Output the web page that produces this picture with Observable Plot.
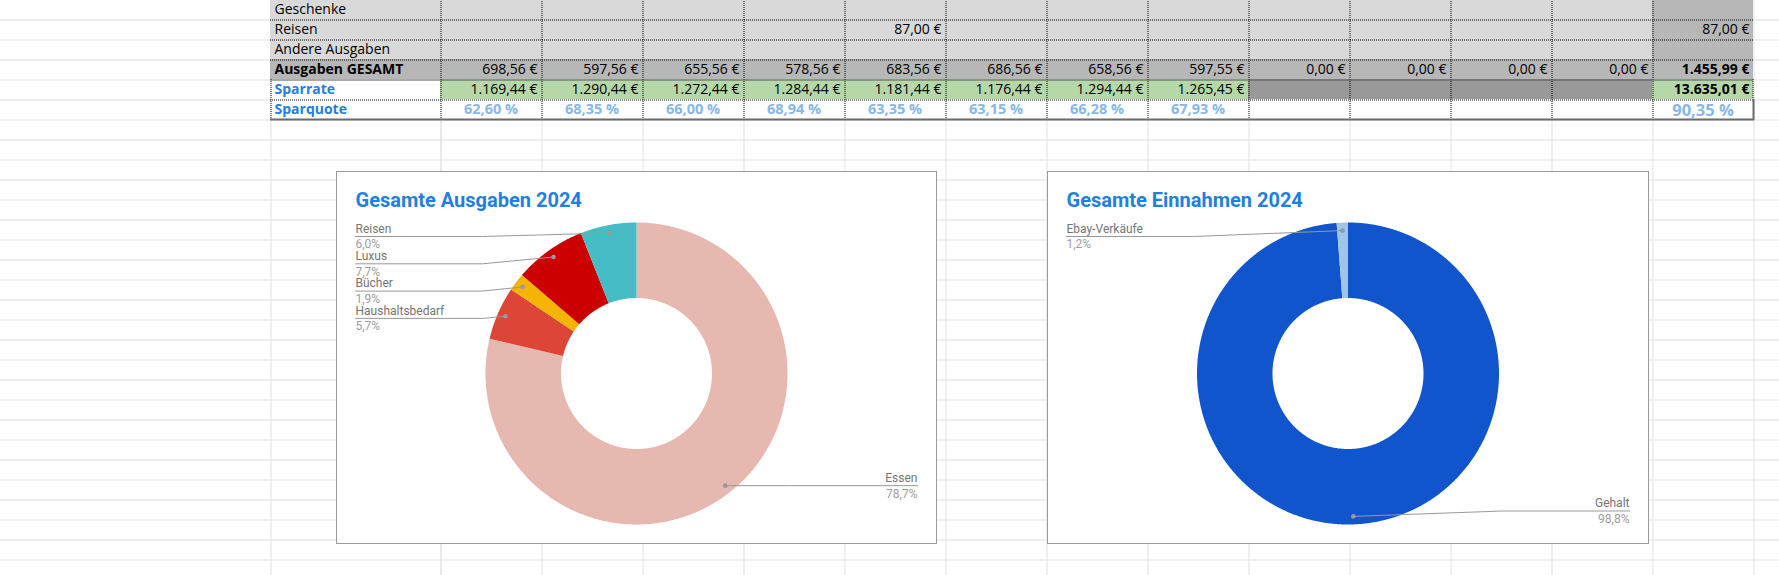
<!DOCTYPE html>
<html><head><meta charset="utf-8">
<script src="https://cdn.jsdelivr.net/npm/d3@7"></script>
<script src="https://cdn.jsdelivr.net/npm/@observablehq/plot@0.6"></script>
<style>html,body{margin:0;padding:0;background:#fff;overflow:hidden}</style>
</head><body><div id="chart"></div>
<script>
// ---------------- DATA ----------------
const months = ["Januar","Februar","März","April","Mai","Juni","Juli","August","September","Oktober","November","Dezember"];
const rowLabels = ["Geschenke","Reisen","Andere Ausgaben","Ausgaben GESAMT","Sparrate","Sparquote"];
const geschenke = [null,null,null,null,null,null,null,null,null,null,null,null];
const reisen = [null,null,null,null,87.00,null,null,null,null,null,null,null];
const andereAusgaben = [null,null,null,null,null,null,null,null,null,null,null,null];
const ausgabenGesamt = [698.56,597.56,655.56,578.56,683.56,686.56,658.56,597.55,0,0,0,0];
const sparrate = [1169.44,1290.44,1272.44,1284.44,1181.44,1176.44,1294.44,1265.45,null,null,null,null];
const sparquote = [62.60,68.35,66.00,68.94,63.35,63.15,66.28,67.93,null,null,null,null];
const rowTotals = [null,87.00,null,1455.99,13635.01,90.35];

const chartTitles = ["Gesamte Ausgaben 2024","Gesamte Einnahmen 2024"];
const expenseCategories = ["Essen","Haushaltsbedarf","Bücher","Luxus","Reisen"];
const expenseShares = [78.7,5.7,1.9,7.7,6.0];
const incomeCategories = ["Gehalt","Ebay-Verkäufe"];
const incomeShares = [98.8,1.2];

// ---------------- STYLE / LAYOUT ----------------
const expenseColors = ["#e6b8af","#dd4637","#f4b400","#cc0000","#46bdc6"];
const incomeColors = ["#1155cc","#9fc5e8"];
const W = 1779, H = 575;
const colAEnd = 270, colBEnd = 440, colW = 101, rowH = 20, row0 = -1;
const colLeft = i => colBEnd + colW * i;      // 0..11 months, 12 = total
const tableRight = colLeft(13);
const rowTop = r => row0 + rowH * r;
const blue = "#1f80e0", lightBlue = "#88b7e8";
const sheetFont = "Open Sans", chartFont = "Roboto";
const rOuter = 151, rInner = 75.5, rDot = 143;
const charts = [
  {x0: 336, y0: 171, x1: 936, y1: 543, cx: 636, cy: 373, title: chartTitles[0], cats: expenseCategories, shares: expenseShares},
  {x0: 1047, y0: 171, x1: 1648, y1: 543, cx: 1347.5, cy: 373, title: chartTitles[1], cats: incomeCategories, shares: incomeShares}
];

const loc = d3.formatLocale({decimal: ",", thousands: ".", grouping: [3], currency: ["", " €"]});
const fmtEuro = v => loc.format(",.2f")(v) + " €";
const fmtPct = v => loc.format(".2f")(v) + " %";
const fmtShare = v => loc.format(".1f")(v) + "%";

// ---------------- TABLE BUILD ----------------
const rowsData = [geschenke, reisen, andereAusgaben, ausgabenGesamt, sparrate, sparquote];
const cells = [];
rowsData.forEach((arr, r) => {
  for (let c = -1; c <= 12; c++) {
    let kind;
    if (r <= 2) kind = c === 12 ? "mid" : "light";
    else if (r === 3) kind = "mid";
    else if (r === 4) kind = c === -1 ? "white" : c === 12 ? "green" : (arr[c] != null ? "green" : "dark");
    else kind = "white";
    cells.push({r, c, kind,
      x1: c === -1 ? colAEnd : colLeft(c), x2: c === -1 ? colBEnd : colLeft(c + 1),
      y1: rowTop(r), y2: rowTop(r + 1)});
  }
});
const cellFill = {light: "#d9d9d9", mid: "#b7b7b7", green: "#b6d7a8", dark: "#999999", white: "#ffffff"};

const texts = [];
rowsData.forEach((arr, r) => {
  for (let c = 0; c <= 12; c++) {
    const v = c < 12 ? arr[c] : rowTotals[r];
    if (v == null) continue;
    texts.push({r, c, v, text: r === 5 ? fmtPct(v) : fmtEuro(v),
      xr: colLeft(c + 1) - 4, xc: (colLeft(c) + colLeft(c + 1)) / 2, y: rowTop(r) + rowH / 2});
  }
});
const labelCells = rowLabels.map((t, r) => ({r, t, x: colAEnd + 4, y: rowTop(r) + rowH / 2}));

const gridY = d3.range(19, H, 20);
const gridX = [colAEnd, colBEnd, ...d3.range(0, 14).map(colLeft)];

// ---------------- PIES ----------------
const slicePts = [], labels = [], leaderPts = [];
charts.forEach((ch, ci) => {
  const arcs = d3.pie().sort(null).value(d => d.v)(ch.cats.map((k, i) => ({k, v: ch.shares[i]})));
  const chartLabels = [];
  arcs.forEach(a => {
    const key = ci + ":" + a.data.k;
    const n = Math.max(2, Math.ceil((a.endAngle - a.startAngle) / (Math.PI / 360)));
    for (let j = 0; j <= n; j++) {
      const t = a.startAngle + (a.endAngle - a.startAngle) * j / n;
      slicePts.push({key, cat: a.data.k, x: ch.cx + rOuter * Math.sin(t), y: ch.cy - rOuter * Math.cos(t)});
    }
    for (let j = n; j >= 0; j--) {
      const t = a.startAngle + (a.endAngle - a.startAngle) * j / n;
      slicePts.push({key, cat: a.data.k, x: ch.cx + rInner * Math.sin(t), y: ch.cy - rInner * Math.cos(t)});
    }
    const mid = (a.startAngle + a.endAngle) / 2;
    const side = Math.sin(mid) < 0 ? "left" : "right";
    chartLabels.push({key, cat: a.data.k, share: a.data.v, side,
      dx: ch.cx + rDot * Math.sin(mid), dy: ch.cy - rDot * Math.cos(mid),
      lx: side === "left" ? ch.x0 + 19 : ch.x1 - 19});
  });
  const top = ch.y0 + 65, bottom = ch.y1 - 32.5, gap = 27.3;
  ["left", "right"].forEach(s => {
    let prev = -Infinity;
    chartLabels.filter(d => d.side === s).sort((a, b) => a.dy - b.dy).forEach(d => {
      d.ly = Math.min(bottom, Math.max(d.dy, top, prev + gap));
      prev = d.ly;
    });
  });
  chartLabels.forEach(d => {
    const bx = d.side === "left" ? d.lx + 127 : d.lx - 127;
    leaderPts.push({key: d.key, x: d.dx, y: d.dy}, {key: d.key, x: bx, y: d.ly}, {key: d.key, x: d.lx, y: d.ly});
    labels.push(d);
  });
});

// ---------------- PLOT ----------------
const crisp = v => Math.round(v) + 0.5;
const tableText = (data, opts) => Plot.text(data, {y: "y", fontSize: 14, fontFamily: sheetFont, ...opts});
const plot = Plot.plot({
  width: W, height: H, margin: 0,
  x: {domain: [0, W], range: [0, W], axis: null},
  y: {domain: [0, H], range: [0, H], axis: null},
  color: {type: "ordinal", domain: [...expenseCategories, ...incomeCategories], range: [...expenseColors, ...incomeColors]},
  style: {fontFamily: sheetFont, background: "#fff"},
  marks: [
    // sheet gridlines
    Plot.ruleY(gridY, {y: d => crisp(d), stroke: "#e1e1e1", strokeOpacity: 1}),
    Plot.ruleX(gridX, {x: d => crisp(d), stroke: "#e1e1e1", strokeOpacity: 1}),
    // table cells
    ...Object.keys(cellFill).map(k => Plot.rect(cells.filter(d => d.kind === k), {x1: "x1", x2: "x2", y1: "y1", y2: "y2", fill: cellFill[k], inset: 0})),
    // dotted inner borders
    Plot.ruleY([0, 1, 2, 4].map(r => rowTop(r + 1)), {y: d => crisp(d), x1: colAEnd, x2: tableRight, stroke: "#000", strokeDasharray: "1,1", strokeOpacity: 1}),
    Plot.ruleX(d3.range(0, 13).map(colLeft), {x: d => crisp(d), y1: rowTop(0), y2: rowTop(6), stroke: "#000", strokeDasharray: "1,1", strokeOpacity: 1}),
    Plot.ruleX([colAEnd], {x: d => crisp(d), y1: rowTop(4), y2: rowTop(6), stroke: "#000", strokeDasharray: "1,1", strokeOpacity: 1}),
    Plot.ruleX([tableRight - 1], {x: d => crisp(d), y1: rowTop(4), y2: rowTop(5), stroke: "#000", strokeDasharray: "1,1", strokeOpacity: 1}),
    Plot.ruleY([rowTop(4)], {y: d => crisp(d), x1: colAEnd, x2: tableRight, stroke: "#555", strokeOpacity: 1}),
    Plot.ruleX([tableRight], {x: d => d, y1: rowTop(5), y2: rowTop(6) + 1, stroke: "#6b6b6b", strokeWidth: 2, strokeOpacity: 1}),
    Plot.ruleY([rowTop(6)], {y: d => d, x1: colAEnd, x2: tableRight + 1, stroke: "#6b6b6b", strokeWidth: 2, strokeOpacity: 1}),
    // table text: row labels
    tableText(labelCells.filter(d => d.r < 3), {x: "x", text: "t", textAnchor: "start", fill: "#000"}),
    tableText(labelCells.filter(d => d.r === 3), {x: "x", text: "t", textAnchor: "start", fill: "#000", fontWeight: "bold"}),
    tableText(labelCells.filter(d => d.r >= 4), {x: "x", text: "t", textAnchor: "start", fill: blue, fontWeight: "bold"}),
    // values
    tableText(texts.filter(d => d.r < 5 && !(d.c === 12 && d.r >= 3)), {x: "xr", text: "text", textAnchor: "end", fill: "#000"}),
    tableText(texts.filter(d => d.r < 5 && d.c === 12 && d.r >= 3), {x: "xr", text: "text", textAnchor: "end", fill: "#000", fontWeight: "bold"}),
    tableText(texts.filter(d => d.r === 5 && d.c < 12), {x: "xc", text: "text", textAnchor: "middle", fontSize: 14.5, fontWeight: "bold", fill: lightBlue}),
    Plot.text(texts.filter(d => d.r === 5 && d.c === 12), {x: "xc", y: d => d.y + 1, text: "text", textAnchor: "middle", fontSize: 16.5, fontFamily: sheetFont, fontWeight: "bold", fill: lightBlue}),
    // chart boxes
    Plot.rect(charts, {x1: d => crisp(d.x0), x2: d => crisp(d.x1), y1: d => crisp(d.y0), y2: d => crisp(d.y1), fill: "#fff", stroke: "#9a9a9a", strokeWidth: 1}),
    Plot.text(charts, {x: d => d.x0 + 19, y: d => d.y0 + 35.7, text: "title", textAnchor: "start", lineAnchor: "bottom", fontSize: 20, fontWeight: "bold", fontFamily: chartFont, fill: blue}),
    // donut slices
    Plot.line(slicePts, {x: "x", y: "y", z: "key", fill: "cat", stroke: "none", curve: "linear"}),
    // leader lines and labels
    Plot.line(leaderPts, {x: "x", y: "y", z: "key", stroke: "#999", strokeWidth: 1, curve: "linear"}),
    Plot.dot(labels, {x: "dx", y: "dy", r: 2.3, fill: "#999", stroke: "none"}),
    Plot.text(labels.filter(d => d.side === "left"), {x: "lx", y: d => d.ly - 7.7, text: "cat", textAnchor: "start", fontSize: 12, fontFamily: chartFont, fill: "#757575"}),
    Plot.text(labels.filter(d => d.side === "left"), {x: "lx", y: d => d.ly + 8, text: d => fmtShare(d.share), textAnchor: "start", fontSize: 12, fontFamily: chartFont, fill: "#9e9e9e"}),
    Plot.text(labels.filter(d => d.side === "right"), {x: "lx", y: d => d.ly - 7.7, text: "cat", textAnchor: "end", fontSize: 12, fontFamily: chartFont, fill: "#757575"}),
    Plot.text(labels.filter(d => d.side === "right"), {x: "lx", y: d => d.ly + 8, text: d => fmtShare(d.share), textAnchor: "end", fontSize: 12, fontFamily: chartFont, fill: "#9e9e9e"})
  ]
});
document.getElementById("chart").append(plot);
</script>
</body></html>
